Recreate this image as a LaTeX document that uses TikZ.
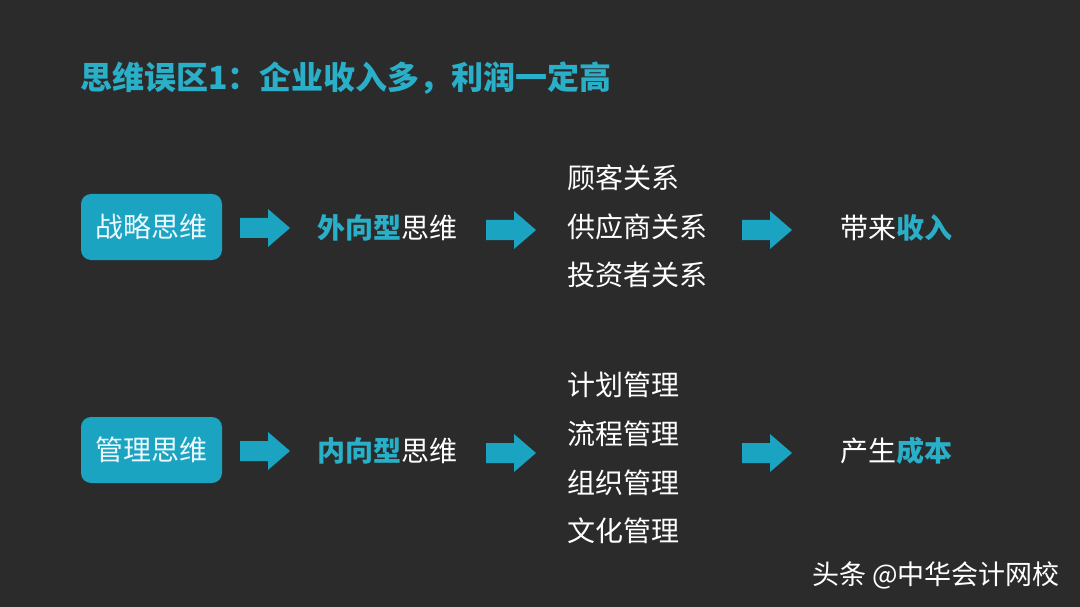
\documentclass[tikz,border=0pt]{standalone}
\usepackage{fontspec}
\newfontfamily\cjk{Noto Sans CJK SC}
\definecolor{bg}{HTML}{2B2B2B}
\definecolor{teal}{HTML}{1BA4C2}
\definecolor{tealt}{HTML}{2AAFC8}
\tikzset{
 txt/.style={text=white,font=\cjk\fontsize{28}{28}\selectfont,inner sep=0pt},
 boxn/.style={fill=teal,rounded corners=10pt,minimum width=141pt,minimum height=66pt,text=white!92!cyan,font=\cjk\fontsize{28}{28}\selectfont},
 arr/.style={inner sep=0pt,minimum width=50pt,minimum height=38pt,
   append after command={\pgfextra{\let\an\tikzlastnode
     \fill[teal] ([xshift=-25pt,yshift=-10pt]\an.center) -- ++(28pt,0) -- ++(0,-9pt) -- ([xshift=25pt]\an.center) -- ([xshift=3pt,yshift=19pt]\an.center) -- ++(0,-9pt) -- ++(-28pt,0) -- cycle;}}}
}
\begin{document}
\begin{tikzpicture}[x=1pt,y=-1pt]
\fill[bg] (0,0) rectangle (1080,607);
\useasboundingbox (0,0) rectangle (1080,607);
\node[anchor=west,text=tealt,font=\cjk\bfseries\fontsize{32}{32}\selectfont,inner sep=0pt] (title) at (80,78) {思维误区1：企业收入多，利润一定高};
% row 1
\node[boxn] (b1) at (151.5,227) {战略思维};
\node[arr] (a11) at (265,228) {};
\node[txt,anchor=west] (m1) at (317,228) {{\color{tealt}\bfseries 外向型}思维};
\node[arr] (a12) at (511,230) {};
\node[txt,anchor=west] (l11) at (567,178) {顾客关系};
\node[txt,anchor=west] (l12) at (567,227) {供应商关系};
\node[txt,anchor=west] (l13) at (567,275) {投资者关系};
\node[arr] (a13) at (767,230) {};
\node[txt,anchor=west] (r1) at (840,228) {带来{\color{tealt}\bfseries 收入}};
% row 2
\node[boxn] (b2) at (151.5,450) {管理思维};
\node[arr] (a21) at (265,451) {};
\node[txt,anchor=west] (m2) at (317,451) {{\color{tealt}\bfseries 内向型}思维};
\node[arr] (a22) at (511,453) {};
\node[txt,anchor=west] (l21) at (567,385) {计划管理};
\node[txt,anchor=west] (l22) at (567,434) {流程管理};
\node[txt,anchor=west] (l23) at (567,483) {组织管理};
\node[txt,anchor=west] (l24) at (567,531) {文化管理};
\node[arr] (a23) at (767,453) {};
\node[txt,anchor=west] (r2) at (840,451) {产生{\color{tealt}\bfseries 成本}};
\node[anchor=east,text=white,font=\cjk\fontsize{27}{27}\selectfont,inner sep=0pt] (wm) at (1060,575) {头条 @中华会计网校};
\end{tikzpicture}
\end{document}
